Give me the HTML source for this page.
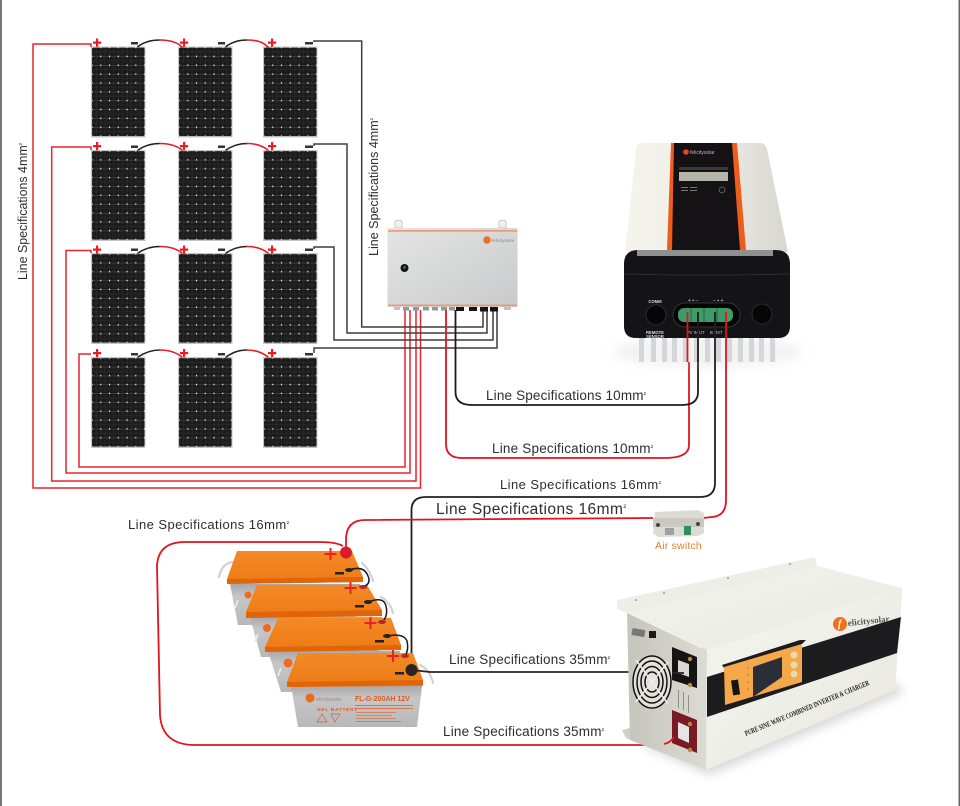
<!DOCTYPE html>
<html><head><meta charset="utf-8"><style>html,body{margin:0;padding:0;background:#fff}svg{display:block}text{font-family:"Liberation Sans",sans-serif}</style></head><body>
<svg xmlns="http://www.w3.org/2000/svg" width="960" height="806" viewBox="0 0 960 806">
<defs>
<pattern id="cell" width=".16667" height=".1" patternUnits="objectBoundingBox">
<rect width="9" height="9" fill="#1d1c1c"/>
<path d="M0 0H9" stroke="#6a6a6a" stroke-width=".7"/>
<path d="M4.400 0V9M0 4.400H9" stroke="#2f2f2f" stroke-width=".5"/>
<path d="M0 0V9" stroke="#3a3a3a" stroke-width=".5"/>
<circle cx="0" cy="0" r=".7" fill="#fff"/><circle cx="8.750" cy="0" r=".7" fill="#fff"/><circle cx="0" cy="8.860" r=".7" fill="#fff"/><circle cx="8.750" cy="8.860" r=".7" fill="#fff"/>
</pattern>
<linearGradient id="bx" x1="0" y1="0" x2="1" y2="1"><stop offset="0" stop-color="#e4e4e4"/><stop offset="1" stop-color="#c9cacb"/></linearGradient>
<linearGradient id="ctl" x1="0" y1="0" x2="1" y2="0"><stop offset="0" stop-color="#f5f4ec"/><stop offset=".5" stop-color="#efeee6"/><stop offset="1" stop-color="#d8d7cf"/></linearGradient>
<linearGradient id="batTop" x1="0" y1="0" x2="0" y2="1"><stop offset="0" stop-color="#f28a26"/><stop offset="1" stop-color="#ee7a14"/></linearGradient>
<linearGradient id="batBody" x1="0" y1="0" x2="0" y2="1"><stop offset="0" stop-color="#a8a8aa"/><stop offset=".3" stop-color="#c6c6c8"/><stop offset="1" stop-color="#b8b8ba"/></linearGradient>
<linearGradient id="inv" x1="0" y1="0" x2="1" y2="1"><stop offset="0" stop-color="#f5f5f0"/><stop offset="1" stop-color="#e8e8e1"/></linearGradient>
<linearGradient id="invL" x1="0" y1="0" x2="1" y2="0"><stop offset="0" stop-color="#c6c5bc"/><stop offset="1" stop-color="#dcdbd3"/></linearGradient>
<filter id="bl" x="-20%" y="-20%" width="140%" height="140%"><feGaussianBlur stdDeviation="5"/></filter>
<g id="p">
<rect x="0" y="0" width="54.500" height="91" fill="#c4c4c4"/>
</g>
</defs>
<rect width="960" height="806" fill="#fff"/>
<rect x="0" y="0" width="2" height="806" fill="#777"/>
<rect x="958.500" y="0" width="1.500" height="806" fill="#6a6367"/>

<!-- solar panels -->
<use href="#p" x="91" y="46.500"/><use href="#p" x="178" y="46.500"/><use href="#p" x="263" y="46.500"/>
<use href="#p" x="91" y="150"/><use href="#p" x="178" y="150"/><use href="#p" x="263" y="150"/>
<use href="#p" x="91" y="253"/><use href="#p" x="178" y="253"/><use href="#p" x="263" y="253"/>
<use href="#p" x="91" y="357"/><use href="#p" x="178" y="357"/><use href="#p" x="263" y="357"/>
<g fill="url(#cell)">
<rect x="92" y="47.500" width="52.500" height="88.600"/><rect x="179" y="47.500" width="52.500" height="88.600"/><rect x="264" y="47.500" width="52.500" height="88.600"/>
<rect x="92" y="151" width="52.500" height="88.600"/><rect x="179" y="151" width="52.500" height="88.600"/><rect x="264" y="151" width="52.500" height="88.600"/>
<rect x="92" y="254" width="52.500" height="88.600"/><rect x="179" y="254" width="52.500" height="88.600"/><rect x="264" y="254" width="52.500" height="88.600"/>
<rect x="92" y="358" width="52.500" height="88.600"/><rect x="179" y="358" width="52.500" height="88.600"/><rect x="264" y="358" width="52.500" height="88.600"/>
</g>

<!-- arcs between panels -->
<g fill="none" stroke-width="1.600" stroke-linecap="round">
<g stroke="#222">
<path d="M138 46.500C144 42 151 40 160 40"/><path d="M226 46.500C232 42 238 40 247 40"/>
<path d="M138 150C144 146 151 143.500 160 143.500"/><path d="M226 150C232 146 238 143.500 247 143.500"/>
<path d="M138 253C144 249 151 246.500 160 246.500"/><path d="M226 253C232 249 238 246.500 247 246.500"/>
<path d="M138 357C144 353 151 350 160 350"/><path d="M226 357C232 353 238 350 247 350"/>
</g>
<g stroke="#ea1c24">
<path d="M160 40C170 40 177 42 182 47"/><path d="M247 40C257 40 263 42 268 47"/>
<path d="M160 143.500C170 143.500 177 146 182 150"/><path d="M247 143.500C257 143.500 263 146 268 150"/>
<path d="M160 246.500C170 246.500 177 249 182 253"/><path d="M247 246.500C257 246.500 263 249 268 253"/>
<path d="M160 350C170 350 177 353 182 357"/><path d="M247 350C257 350 263 353 268 357"/>
</g>
</g>

<!-- plus / minus -->
<g fill="#ea1c24">
<g><path d="M96 38.500h2.200v3h3v2.200h-3v3h-2.200v-3h-3v-2.200h3z"/><path d="M183 38.500h2.200v3h3v2.200h-3v3h-2.200v-3h-3v-2.200h3z"/><path d="M271 38.500h2.200v3h3v2.200h-3v3h-2.200v-3h-3v-2.200h3z"/></g>
<g transform="translate(0,103.500)"><path d="M96 38.500h2.200v3h3v2.200h-3v3h-2.200v-3h-3v-2.200h3z"/><path d="M183 38.500h2.200v3h3v2.200h-3v3h-2.200v-3h-3v-2.200h3z"/><path d="M271 38.500h2.200v3h3v2.200h-3v3h-2.200v-3h-3v-2.200h3z"/></g>
<g transform="translate(0,207)"><path d="M96 38.500h2.200v3h3v2.200h-3v3h-2.200v-3h-3v-2.200h3z"/><path d="M183 38.500h2.200v3h3v2.200h-3v3h-2.200v-3h-3v-2.200h3z"/><path d="M271 38.500h2.200v3h3v2.200h-3v3h-2.200v-3h-3v-2.200h3z"/></g>
<g transform="translate(0,310.500)"><path d="M96 38.500h2.200v3h3v2.200h-3v3h-2.200v-3h-3v-2.200h3z"/><path d="M183 38.500h2.200v3h3v2.200h-3v3h-2.200v-3h-3v-2.200h3z"/><path d="M271 38.500h2.200v3h3v2.200h-3v3h-2.200v-3h-3v-2.200h3z"/></g>
</g>
<g fill="#333">
<rect x="131" y="42" width="7" height="2.500"/><rect x="218" y="42" width="7" height="2.500"/><rect x="305" y="42" width="8" height="2.500"/>
<rect x="131" y="145.500" width="7" height="2.500"/><rect x="218" y="145.500" width="7" height="2.500"/><rect x="305" y="145.500" width="8" height="2.500"/>
<rect x="131" y="248.500" width="7" height="2.500"/><rect x="218" y="248.500" width="7" height="2.500"/><rect x="305" y="248.500" width="8" height="2.500"/>
<rect x="131" y="353" width="7" height="2.500"/><rect x="218" y="353" width="7" height="2.500"/><rect x="305" y="353" width="8" height="2.500"/>
</g>

<!-- red collector wires -->
<g fill="none" stroke="#e8242c" stroke-width="1.500">
<path d="M91 47V44H33V488H420.500V310"/>
<path d="M91 150V147H51.700V481H416V310"/>
<path d="M91 253V250.500H66V473H410V310"/>
<path d="M91 354H79V467H405V310"/>
</g>
<!-- black collector wires -->
<g fill="none" stroke="#403c3c" stroke-width="1.500">
<path d="M314 42V41H361.700V327H483V310"/>
<path d="M314 146V144H347V333H487V310"/>
<path d="M314 249V247H334V340H493V310"/>
<path d="M314 353V348H497V310"/>
</g>

<!-- junction box -->
<g>
<path d="M395 228v-6q0-1.500 1.500-1.500h4q1.500 0 1.500 1.500v6zM499 228v-6q0-1.500 1.500-1.500h4q1.500 0 1.500 1.500v6z" fill="#f0f0ec" stroke="#bdbdb8" stroke-width=".8"/>
<rect x="387.500" y="228" width="130" height="79" fill="url(#bx)"/>
<rect x="388" y="230" width="129" height="1.700" fill="#ea9a78"/>
<rect x="388" y="304.500" width="129" height="1.700" fill="#ea9a78"/>
<circle cx="404.500" cy="268" r="4" fill="#161616"/><circle cx="404.500" cy="267.500" r="1.200" fill="#777"/>
<circle cx="487" cy="240" r="3.800" fill="#ee6f22"/>
<text x="492" y="242" font-size="4.500" fill="#888">felicitysolar</text>
<g fill="#8f9a98"><rect x="394" y="307" width="6" height="3" fill="#c2c2bc"/><rect x="403" y="307" width="6" height="3.500"/><rect x="413" y="307" width="6" height="3.500"/><rect x="423" y="307" width="6" height="3.500"/><rect x="432" y="307" width="6" height="3.500"/><rect x="441" y="307" width="6" height="3.500"/><rect x="449" y="307" width="6" height="3.500"/></g>
<g fill="#141414"><rect x="456" y="307" width="8" height="4"/><rect x="469" y="307" width="8" height="4"/><rect x="480" y="307" width="8" height="4.500"/><rect x="490" y="307" width="8" height="4.500"/></g>
<rect x="504" y="307" width="7" height="3" fill="#c2c2bc"/>
</g>

<!-- wires from box to controller -->
<g fill="none" stroke-linejoin="round">
<path d="M446 310V444Q446 458 462 458H665Q689 458 689 445V362" stroke="#e3131b" stroke-width="1.800"/>
<path d="M455.500 310V392Q455.500 405 472 405H682Q698 405 698 392V362" stroke="#1e1a1a" stroke-width="1.800"/>
</g>

<!-- controller -->
<g>
<ellipse cx="708" cy="352" rx="95" ry="16" fill="#bbb" opacity=".18" filter="url(#bl)"/>
<g fill="#d5d6d8">
<rect x="639" y="338" width="5" height="24"/><rect x="651" y="338" width="5" height="24"/><rect x="662" y="338" width="5" height="24"/><rect x="672" y="338" width="5" height="24"/><rect x="683" y="338" width="5" height="24"/><rect x="694" y="338" width="5" height="24"/><rect x="705" y="338" width="5" height="24"/><rect x="716" y="338" width="5" height="24"/><rect x="727" y="338" width="5" height="24"/><rect x="738" y="338" width="5" height="24"/><rect x="749" y="338" width="5" height="24"/><rect x="759" y="338" width="5" height="24"/><rect x="770" y="338" width="5" height="24"/>
</g>
<path d="M641 143H760Q766 143 767 149L788 252H625L636 149Q637 143 641 143Z" fill="url(#ctl)"/>
<path d="M671 143H737L746 250H667Z" fill="#ec5d1e"/>
<path d="M674 143H732L740 250H672Z" fill="#141214"/>
<rect x="679" y="172" width="49" height="9" fill="#b4b7a8"/>
<rect x="679" y="167" width="49" height="3" fill="#3a3a3a"/>
<circle cx="686" cy="152" r="2.800" fill="#e8481e"/><text x="690" y="154" font-size="5" fill="#bbb">felicitysolar</text>
<g fill="#777"><rect x="681" y="187" width="7" height="1"/><rect x="690" y="187" width="7" height="1"/><rect x="681" y="190" width="7" height="1"/><rect x="690" y="190" width="7" height="1"/><circle cx="722" cy="190" r="3" fill="none" stroke="#777" stroke-width=".7"/></g>
<path d="M638 250H776Q790 250 790 264V326Q790 338 778 338H636Q624 338 624 326V264Q624 250 638 250Z" fill="#141316"/>
<rect x="637" y="250" width="136" height="6" fill="#8f8f8f"/>
<path d="M624 274Q708 276 790 274" stroke="#2e2e30" stroke-width="1" fill="none"/>
<circle cx="656" cy="315" r="10" fill="#060606" stroke="#2d2d2d" stroke-width="1"/>
<circle cx="762" cy="314" r="10" fill="#060606" stroke="#2d2d2d" stroke-width="1"/>
<rect x="673" y="303" width="67" height="24" rx="12" fill="#050505" stroke="#333" stroke-width="1"/>
<rect x="678" y="308" width="55" height="14" rx="6" fill="#3e9a66"/>
<g stroke="#1c5d3a" stroke-width=".8"><path d="M691 308V322M704 308V322M717 308V322"/></g>
<text x="655" y="303" font-size="4.200" font-weight="bold" fill="#ddd" text-anchor="middle">COMM</text>
<text x="655" y="334" font-size="4.200" font-weight="bold" fill="#ddd" text-anchor="middle">REMOTE</text>
<text x="655" y="338" font-size="4.200" font-weight="bold" fill="#ddd" text-anchor="middle">SENSOR</text>
<text x="688" y="302" font-size="5" fill="#ddd">+ ▪ −</text><text x="713" y="302" font-size="5" fill="#ddd">− ▪ +</text>
<text x="687" y="334" font-size="4.200" fill="#ccc">PV IN UT</text><text x="710" y="334" font-size="4.200" fill="#ccc">B ITAT</text>
</g>

<!-- controller down wires -->
<g fill="none" stroke-linejoin="round">
<path d="M687.500 312V362" stroke="#e3131b" stroke-width="1.800"/>
<path d="M698 312V362" stroke="#1e1a1a" stroke-width="1.800"/>
<path d="M715 312V483Q715 497 700 497H426Q411.500 497 411.500 510V668" stroke="#221e1e" stroke-width="1.800"/>
<path d="M726 312V500Q726 516 712 517L703 518" stroke="#e3131b" stroke-width="1.800"/>
<path d="M653 518L365 520Q346 520 346 540V552" stroke="#e3131b" stroke-width="1.800"/>
</g>

<!-- batteries -->
<g>
<g fill="none" stroke="#d4d0d8" stroke-width="2.200" stroke-linecap="round"><path d="M233 562Q222 563 219 577"/><path d="M362 563Q370 570 373 581"/><path d="M381 597Q390 602 393 613"/><path d="M420 665Q430 670 433 683"/></g>
<!-- B1 -->
<path d="M230 584H360L355 625H238Z" fill="url(#batBody)"/>
<path d="M237 551H352L363 577V582L227 584V579Z" fill="url(#batTop)"/><path d="M227 579L363 577V582L227 584Z" fill="#e06408"/>
<!-- B2 -->
<path d="M250 617H382L378 657H261Z" fill="url(#batBody)"/>
<path d="M257 585H367L382 610V616L246 618V612Z" fill="url(#batTop)"/><path d="M246 612L382 610V616L246 618Z" fill="#e06408"/>
<!-- B3 -->
<path d="M268 651H400L395 692H281Z" fill="url(#batBody)"/>
<path d="M278 618H391L401 645V650L265 652V647Z" fill="url(#batTop)"/><path d="M265 647L401 645V650L265 652Z" fill="#e06408"/>
<!-- logos behind -->
<g fill="#f06a1e"><circle cx="248" cy="595" r="3.500"/><circle cx="267" cy="628" r="4"/><circle cx="288" cy="663" r="4.500"/></g>
<g stroke="#e8e8ec" stroke-width="2" fill="none"><path d="M238 600L235 608M258 634L255 642M281 668L278 676"/></g>
<!-- B4 -->
<path d="M291 686H422L417 727H298Z" fill="url(#batBody)"/>
<path d="M298 653H413L423 680V686L287 687V682Z" fill="url(#batTop)"/><path d="M287 682L423 680V685L287 687Z" fill="#e06408"/>
<circle cx="310" cy="698" r="4.500" fill="#ec6a1c"/>
<text x="316" y="701" font-size="5.500" fill="#99897f">elicitysolar</text>
<text x="317" y="711" font-size="4.800" font-weight="bold" fill="#d85a22" letter-spacing=".7">GEL BATTERY</text>
<text x="355" y="701" font-size="7" font-weight="bold" fill="#e05a1c">FL-G-200AH 12V</text>
<g fill="#dd7748"><rect x="355" y="705" width="58" height="1"/><rect x="355" y="708" width="58" height="1"/><rect x="356" y="712" width="40" height=".8"/><rect x="356" y="715" width="36" height=".8"/><rect x="356" y="718" width="40" height=".8"/><rect x="356" y="721" width="45" height=".8"/></g>
<path d="M317 722L322 714L327 722ZM331 714H340L335 722Z" fill="none" stroke="#c9663a" stroke-width=".7"/>
<!-- battery jumpers -->
<g fill="none" stroke="#1a1a1a" stroke-width="1.500"><path d="M349 570Q364 565 368 576Q371 583 365 586"/><path d="M368 602Q384 596 386 606Q388 614 384 620"/><path d="M387 636Q404 633 407 641Q409 650 405 656"/></g>
<g fill="#ea1c24" opacity=".95">
<rect x="324.500" y="553" width="12" height="2"/><rect x="329.500" y="548" width="2" height="12"/>
<rect x="344.500" y="587" width="12" height="2"/><rect x="349.500" y="582" width="2" height="12"/>
<rect x="364.500" y="622" width="12" height="2"/><rect x="369.500" y="617" width="2" height="12"/>
<rect x="387" y="655" width="12" height="2"/><rect x="392" y="650" width="2" height="12"/>
</g>
<g fill="#b5272e"><ellipse cx="363" cy="587" rx="4" ry="2"/><ellipse cx="382" cy="622" rx="4" ry="2"/><ellipse cx="405" cy="656" rx="4" ry="2"/></g>
<g fill="#222"><rect x="335" y="572" width="9" height="2.500"/><rect x="355" y="605" width="9" height="2.500"/><rect x="375" y="640" width="9" height="2.500"/><rect x="395" y="672" width="9" height="2.500"/>
<ellipse cx="349" cy="570" rx="4" ry="2"/><ellipse cx="368" cy="602" rx="4" ry="2"/><ellipse cx="387" cy="636" rx="4" ry="2"/></g>
<circle cx="346" cy="552.500" r="6" fill="#dc1c2c"/>
<circle cx="411.500" cy="670" r="6" fill="#2a2420"/>
</g>

<!-- battery out wires -->
<path d="M343 546Q336 542 320 542H185Q158 542 157 566L160 715Q162 745 195 745H655Q668 745 672 736" fill="none" stroke="#e3131b" stroke-width="1.800"/>
<path d="M411.500 670L430 672H672" fill="none" stroke="#2a2424" stroke-width="1.800"/>

<!-- air switch -->
<g>
<path d="M655 512L698 510L704 513V533L698 536L658 537L653 533Z" fill="#dcdcd6"/>
<rect x="653" y="518" width="51" height="9" fill="#c9c9c2"/>
<circle cx="658" cy="525" r="2" fill="#444"/><circle cx="698" cy="524" r="2" fill="#444"/>
<rect x="684" y="526" width="7" height="9" fill="#2f8f5c"/>
<rect x="665" y="528" width="9" height="7" fill="#a0a0a0"/>
<text x="678.500" y="549" font-size="10.500" fill="#e8802e" text-anchor="middle" letter-spacing=".2">Air switch</text>
</g>

<!-- inverter -->
<g>
<path d="M640 745L710 775L905 692L880 670Z" fill="#aaa" opacity=".45" filter="url(#bl)"/>
<path d="M622 730L634 727L636 742L626 738Z" fill="#cfcfc4"/>
<path d="M627 613L707 647L706 770L630 740Z" fill="url(#invL)"/>
<path d="M617 600L815 557L817 566L902 588L902 600Q902 592 895 592L713 650L700 648L627 613L617 609Z" fill="#eeeee8"/>
<path d="M627 613L817 567L900 588L707 650Z" fill="url(#inv)"/>
<path d="M707 653Q707 648 713 648L897 588Q902 588 902 595L895 690L706 770Z" fill="url(#inv)"/>
<g fill="#9a9a94"><circle cx="636" cy="600" r="1"/><circle cx="664" cy="593" r="1"/><circle cx="728" cy="578" r="1"/><circle cx="790" cy="564" r="1"/></g>
<path d="M707 677L901 617L897 653L707 717Z" fill="#1c1b1e"/>
<path d="M722 665L800 640L806 640L802 644L724 668Z" fill="#1c1b1e"/>
<path d="M724 667L802 644V682L725 705Z" fill="#f5a84a"/>
<path d="M753 667L782 657V677L753 697Z" fill="#2a2e38"/>
<rect x="732" y="680" width="7" height="15" fill="#151515" transform="rotate(-8 735 687)"/>
<g fill="#eadab0"><circle cx="794" cy="655" r="3.500"/><circle cx="794" cy="665" r="3.500"/><circle cx="794" cy="674" r="3.500"/></g>
<g fill="#b07030"><circle cx="748" cy="668" r=".8"/><circle cx="748" cy="675" r=".8"/><circle cx="748" cy="682" r=".8"/><circle cx="748" cy="689" r=".8"/></g>
<circle cx="840" cy="624" r="7" fill="#f0701c"/>
<text x="838" y="627" font-size="10" font-weight="bold" font-style="italic" fill="#fff" style="font-family:'Liberation Serif',serif">f</text>
<text x="848" y="626" font-size="9" font-weight="bold" fill="#555" style="font-family:'Liberation Serif',serif" transform="rotate(-6 848 626)">elicitysolar</text>
<text x="746" y="736" font-size="7.600" font-weight="bold" fill="#222" style="font-family:'Liberation Serif',serif" textLength="134" lengthAdjust="spacingAndGlyphs" transform="rotate(-22.500 746 736)">PURE SINE WAVE COMBINED INVERTER &amp; CHARGER</text>
<!-- fan -->
<ellipse cx="652" cy="682" rx="19" ry="26" fill="#e2e1da"/>
<g fill="none" stroke="#111" stroke-width="1.500"><ellipse cx="652" cy="682" rx="19" ry="26"/><ellipse cx="652" cy="682" rx="15" ry="21"/><ellipse cx="652" cy="682" rx="11" ry="15.500"/><ellipse cx="652" cy="682" rx="7" ry="10"/></g>
<path d="M636 660L668 704M668 662L636 702" stroke="#eee" stroke-width="1.600"/>
<rect x="632" y="629" width="13" height="7" fill="#777" transform="rotate(10 638 632)"/>
<rect x="649" y="631" width="7" height="7" fill="#1a1a1a"/>
<!-- terminals -->
<path d="M672 647L697 657V688L672 680Z" fill="#151313"/>
<path d="M678 660L689 664V677L678 673Z" fill="#d8d8d6"/>
<circle cx="690" cy="659" r="2.200" fill="#b08a48"/><circle cx="690" cy="685" r="2.200" fill="#b08a48"/>
<path d="M672 710L697 720V753L672 743Z" fill="#7a1a22"/>
<path d="M678 722L689 727V743L678 738Z" fill="#e5e5e3"/>
<circle cx="690" cy="724" r="2.200" fill="#b08a48"/><circle cx="690" cy="750" r="2.200" fill="#b08a48"/>
<g fill="#8f8f86"><rect x="678" y="690" width="1" height="18"/><rect x="683" y="692" width="1" height="18"/><rect x="688" y="695" width="1" height="18"/></g>
<path d="M672 673H684" stroke="#2a2424" stroke-width="1.800"/>
<path d="M664 744Q670 743 674 737" stroke="#e3131b" stroke-width="1.800" fill="none"/>
</g>

<!-- labels -->
<g fill="#2f2d2e">
<text transform="translate(27 280) rotate(-90)" font-size="12.500" textLength="137" lengthAdjust="spacingAndGlyphs">Line Specifications 4mm<tspan font-size="7" dy="-3">²</tspan></text>
<text transform="translate(378 256) rotate(-90)" font-size="12.500" textLength="138" lengthAdjust="spacingAndGlyphs">Line Specifications 4mm<tspan font-size="7" dy="-3">²</tspan></text>
<text x="486" y="400" font-size="13.500" textLength="160" lengthAdjust="spacing">Line Specifications 10mm<tspan font-size="7" dy="-3">²</tspan></text>
<text x="492" y="453" font-size="13.500" textLength="161" lengthAdjust="spacing">Line Specifications 10mm<tspan font-size="7" dy="-3">²</tspan></text>
<text x="500" y="489" font-size="13" textLength="161" lengthAdjust="spacing">Line Specifications 16mm<tspan font-size="7" dy="-3">²</tspan></text>
<text x="436" y="514" font-size="15.500" textLength="190" lengthAdjust="spacing">Line Specifications 16mm<tspan font-size="8" dy="-4">²</tspan></text>
<text x="128" y="529" font-size="13" textLength="161" lengthAdjust="spacing">Line Specifications 16mm<tspan font-size="7" dy="-3">²</tspan></text>
<text x="449" y="664" font-size="13.500" textLength="161" lengthAdjust="spacing">Line Specifications 35mm<tspan font-size="7" dy="-3">²</tspan></text>
<text x="443" y="736" font-size="13.500" textLength="161" lengthAdjust="spacing">Line Specifications 35mm<tspan font-size="7" dy="-3">²</tspan></text>
</g>
</svg>
</body></html>
